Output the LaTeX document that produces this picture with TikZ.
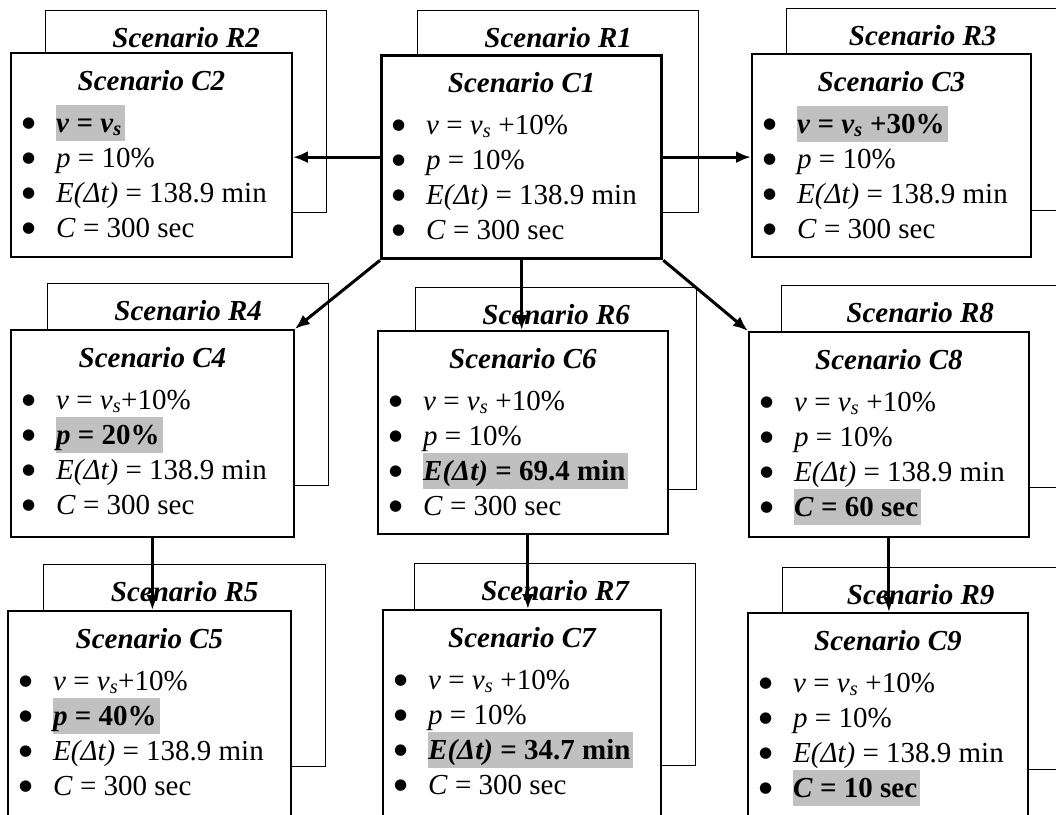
\documentclass[tikz,border=0pt]{standalone}
\usepackage{fontspec}
\setmainfont{Liberation Serif}
\newfontfamily\symfont{DejaVu Sans}
\usetikzlibrary{calc,arrows.meta}

\definecolor{hlgray}{RGB}{192,192,192}

\newcommand{\boxfont}{\fontsize{29}{35}\selectfont}
\newcommand{\bul}{\makebox[34pt][l]{\raisebox{5pt}{\fontsize{15}{15}\selectfont\symfont ●}}}
\newcommand{\hl}[1]{{\setlength{\fboxsep}{0pt}\colorbox{hlgray}{\rule[-9pt]{0pt}{36pt}#1\hspace{3pt}}}}
\newcommand{\vv}{\textit{v}}
\newcommand{\vs}{\textit{v}\textsubscript{\textit{s}}}
\newcommand{\Edt}{\textit{E(Δt)}}

\tikzset{
  backbox/.style={draw, line width=1.4pt, fill=white, anchor=north west, minimum height=202pt, inner sep=0pt},
  frontbox/.style={draw, line width=1.8pt, fill=white, anchor=north west, minimum width=281pt, minimum height=204pt, inner sep=0pt},
  boxtitle/.style={anchor=base, inner sep=0pt, font=\boxfont\bfseries\itshape},
  bulletlist/.style={anchor=north west, inner sep=0pt, align=left, font=\boxfont},
  link/.style={-{Latex[length=15pt,width=12pt]}, line width=3pt}
}

% back card: name, top left, width, title
\newcommand{\back}[4]{%
  \node[backbox, minimum width=#3] (#1) at (#2) {};
  \node[boxtitle] (#1-t) at ($(#1.north)+(0,37)$) {Scenario #4};
}
% front card: name, options, top left, title, four lines
\newcommand{\scen}[8]{%
  \node[frontbox, #2] (#1) at (#3) {};
  \node[boxtitle] (#1-t) at ($(#1.north)+(0,38)$) {Scenario #4};
  \node[bulletlist] (#1-l) at ($(#1.north west)+(12,53)$)
    {\rule{0pt}{27pt}\bul #5\\ \bul #6\\ \bul #7\\ \bul #8};
}

\begin{document}
\begin{tikzpicture}[x=1pt,y=-1pt]
\useasboundingbox (0,0) rectangle (1056,814);
\clip (0,0) rectangle (1056,814);
\fill[white] (0,0) rectangle (1056,814);

% R scenarios (behind)
\back{r2}{45,10}{281pt}{R2}
\back{r1}{417,10}{281pt}{R1}
\back{r3}{786,8}{272pt}{R3}
\back{r4}{47,283}{281pt}{R4}
\back{r6}{415,287}{281pt}{R6}
\back{r8}{781,285}{277pt}{R8}
\back{r5}{43,564}{282pt}{R5}
\back{r7}{414,563}{281pt}{R7}
\back{r9}{782,567}{276pt}{R9}

% C scenarios
\scen{c2}{}{10,52}{C2}{\hl{\textbf{\vv{} = \vs}}}{\textit{p} = 10\%}{\Edt{} = 138.9 min}{\textit{C} = 300 sec}
\scen{c1}{line width=3.3pt, minimum width=280pt, minimum height=203pt}{380,54}{C1}{\vv{} = \vs{} +10\%}{\textit{p} = 10\%}{\Edt{} = 138.9 min}{\textit{C} = 300 sec}
\scen{c3}{minimum width=279pt, minimum height=203pt}{751,53}{C3}{\hl{\textbf{\vv{} = \vs{} +30\%}}}{\textit{p} = 10\%}{\Edt{} = 138.9 min}{\textit{C} = 300 sec}
\scen{c4}{minimum width=283pt, minimum height=207pt}{10,329}{C4}{\vv{} = \vs+10\%}{\hl{\textbf{\textit{p} = 20\%}}}{\Edt{} = 138.9 min}{\textit{C} = 300 sec}
\scen{c6}{minimum width=290pt, minimum height=203pt}{377,330}{C6}{\vv{} = \vs{} +10\%}{\textit{p} = 10\%}{\hl{\textbf{\Edt{} = 69.4 min}}}{\textit{C} = 300 sec}
\scen{c8}{minimum width=280pt, minimum height=205pt}{748,331}{C8}{\vv{} = \vs{} +10\%}{\textit{p} = 10\%}{\Edt{} = 138.9 min}{\hl{\textbf{\textit{C} = 60 sec}}}
\scen{c5}{minimum width=283pt, minimum height=215pt}{7,610}{C5}{\vv{} = \vs+10\%}{\hl{\textbf{\textit{p} = 40\%}}}{\Edt{} = 138.9 min}{\textit{C} = 300 sec}
\scen{c7}{minimum width=278pt, minimum height=215pt}{382,609}{C7}{\vv{} = \vs{} +10\%}{\textit{p} = 10\%}{\hl{\textbf{\Edt{} = 34.7 min}}}{\textit{C} = 300 sec}
\scen{c9}{minimum width=280pt, minimum height=215pt}{747,612}{C9}{\vv{} = \vs{} +10\%}{\textit{p} = 10\%}{\Edt{} = 138.9 min}{\hl{\textbf{\textit{C} = 10 sec}}}

% arrows
\coordinate (c6out) at ($(c6.south)+(5,0)$);
\draw[link] (c1.west) -- (c1.west -| c2.east);
\draw[link] (c1.east) -- (c1.east -| c3.west);
\draw[link] (c1.south west) -- (c4.north east);
\draw[link] (c1.south) -- (c1.south |- c6.north);
\draw[link] (c1.south east) -- (c8.north west);
\draw[link] (c4.south) -- (c4.south |- c5.north);
\draw[link] (c6out) -- (c6out |- c7.north);
\draw[link] (c8.south) -- (c8.south |- c9.north);
\end{tikzpicture}
\end{document}
